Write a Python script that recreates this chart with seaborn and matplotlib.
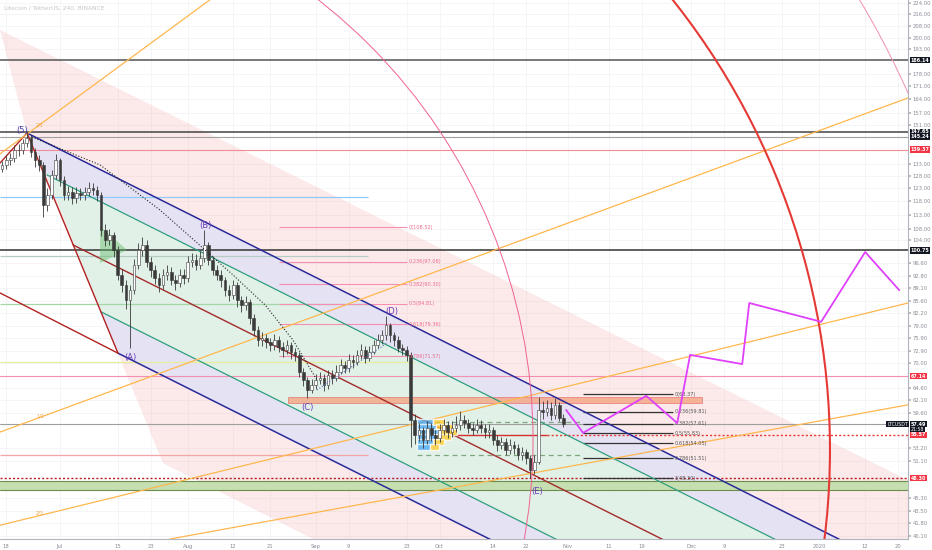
import matplotlib
matplotlib.use('Agg')
import numpy as np
import pandas as pd
import seaborn as sns
import matplotlib.pyplot as plt
import matplotlib.dates as mdates
from matplotlib.patches import Polygon, Circle, Rectangle
from matplotlib.transforms import IdentityTransform, blended_transform_factory
from matplotlib.ticker import FixedLocator, FuncFormatter, NullLocator

sns.set_theme(style='white')
plt.rcParams['font.family'] = ['DejaVu Sans']

# ---- price data (daily bars) ----
candle_start = '2019-06-17'
first_open = 131.0
closes = [132.6, 134.8, 135.7, 139.2, 139.2, 142.4, 144.7, 138.3, 134.8, 132.6,
          116.6, 120.4, 128.4, 134.8, 126.4, 120.4, 121.6, 119.3, 121.2, 120.4,
          121.6, 123.2, 122.4, 120.4, 107.6, 104.2, 105.9, 100.8, 93.0, 90.0,
          85.8, 88.6, 96.0, 100.8, 102.5, 97.0, 94.5, 92.1, 90.0, 93.0,
          93.9, 91.5, 90.6, 93.0, 92.1, 97.0, 97.6, 96.0, 98.2, 102.5,
          97.6, 94.5, 93.0, 91.5, 88.6, 87.2, 90.0, 85.8, 84.4, 85.3,
          81.0, 77.9, 75.4, 75.9, 74.9, 74.2, 75.4, 73.7, 73.0, 74.2,
          72.5, 71.8, 68.1, 66.3, 64.2, 65.2, 66.3, 66.7, 65.2, 67.4,
          66.7, 68.1, 69.6, 68.9, 70.7, 70.2, 71.8, 73.0, 71.2, 72.5,
          74.2, 75.4, 76.6, 79.2, 76.6, 75.4, 73.5, 73.0, 71.8, 58.3,
          55.5, 56.4, 54.6, 56.8, 55.5, 55.0, 56.4, 57.3, 56.0, 56.8,
          57.3, 58.3, 57.7, 56.8, 56.4, 57.3, 56.8, 56.0, 56.4, 54.6,
          53.7, 54.3, 52.9, 53.7, 53.2, 52.0, 52.5, 51.5, 49.6, 50.9,
          60.2, 59.8, 60.6, 59.2, 61.2, 58.7, 57.5]
highs = [134.5, 136.8, 138.0, 141.5, 142.0, 144.5, 147.6, 146.0, 140.0, 137.0,
         134.0, 123.0, 130.5, 137.5, 135.5, 128.0, 124.0, 123.5, 123.5, 123.0,
         123.5, 125.5, 125.0, 124.0, 121.5, 109.5, 108.0, 107.0, 102.0, 95.0,
         91.5, 90.0, 98.0, 103.0, 105.0, 104.0, 98.5, 96.0, 93.5, 95.0,
         96.0, 95.5, 93.0, 95.0, 95.0, 99.0, 100.0, 99.5, 100.5, 107.6,
         103.5, 99.0, 96.0, 94.5, 92.5, 90.0, 91.5, 91.0, 87.0, 87.0,
         86.0, 82.0, 79.0, 77.5, 77.0, 76.0, 77.0, 76.5, 75.0, 75.5,
         75.0, 73.5, 72.5, 69.0, 67.0, 66.5, 67.5, 68.0, 67.5, 68.5,
         68.5, 69.5, 71.0, 70.5, 72.0, 71.8, 73.0, 74.5, 74.0, 74.0,
         75.5, 77.0, 78.0, 81.5, 79.8, 77.5, 76.5, 74.5, 74.0, 72.5,
         59.5, 57.8, 57.0, 58.0, 57.8, 56.5, 57.5, 58.5, 58.0, 58.0,
         59.0, 60.0, 59.2, 58.5, 57.8, 58.5, 58.2, 57.5, 57.5, 57.0,
         55.5, 55.2, 55.0, 54.8, 54.5, 54.0, 53.5, 53.0, 52.0, 52.0,
         62.8, 62.0, 62.2, 61.8, 62.5, 61.8, 59.5]
lows = [129.5, 131.0, 132.8, 134.0, 136.5, 137.5, 140.5, 136.0, 132.0, 130.0,
        112.0, 114.5, 119.0, 127.0, 124.0, 118.5, 118.5, 117.0, 117.5, 118.5,
        118.5, 120.0, 120.5, 118.0, 105.5, 102.0, 102.5, 98.5, 91.5, 88.0,
        83.5, 73.5, 87.5, 95.0, 99.0, 95.5, 92.5, 90.5, 88.0, 89.0,
        91.5, 90.0, 88.5, 89.5, 90.5, 91.0, 95.5, 94.5, 95.0, 97.0,
        96.0, 93.0, 91.5, 89.5, 87.0, 85.5, 86.0, 84.0, 82.5, 83.0,
        79.5, 76.5, 74.0, 74.0, 73.5, 72.8, 73.0, 72.5, 71.5, 72.0,
        71.0, 70.5, 67.0, 65.0, 62.5, 63.5, 64.5, 65.5, 64.0, 64.5,
        65.5, 66.0, 67.5, 67.8, 68.0, 69.0, 69.5, 71.0, 70.0, 70.5,
        72.0, 73.5, 74.5, 75.5, 75.0, 74.0, 72.5, 71.8, 70.5, 53.5,
        54.0, 54.5, 53.2, 54.0, 54.5, 53.8, 54.2, 55.5, 55.0, 55.2,
        56.0, 56.5, 56.8, 55.8, 55.5, 55.8, 55.8, 55.0, 55.0, 53.8,
        52.8, 53.0, 52.0, 52.2, 52.3, 51.2, 51.3, 50.5, 48.3, 49.0,
        50.5, 58.5, 59.0, 58.2, 58.5, 58.0, 57.0]

# ---- drawing anchors (date, price) ----
END = '2020-01-22 12:00'
fork_upper = [('2019-06-23 01:00', 147.1), (END, 35.5)]
fork_upper_mid = [('2019-06-27 21:00', 128.5), (END, 32.0)]
fork_median = [('2019-07-04 05:00', 102.5), (END, 26.7)]
fork_lower_mid = [('2019-07-11 00:00', 82.6), (END, 22.5)]
fork_lower = [('2019-07-15 02:00', 72.3), (END, 20.2)]
wave_path = [('2019-06-16 12:00', 133.5), ('2019-06-23 01:00', 147.1), ('2019-07-15 02:00', 72.3)]
lower_red = [('2019-06-16 12:00', 87.8), ('2019-07-15 02:00', 72.3)]
wedge = [('2019-06-16 12:00', 205.1), (END, 48.0), (END, 15.2),
         ('2019-08-31 08:00', 39.7), ('2019-07-26 00:00', 50.7), ('2019-06-23 01:00', 147.1)]

full_levels = [186.14, 147.65, 145.24, 139.37, 100.75, 67.14, 57.49]
full_level_colors = ['#555555', '#444444', '#a0a0a0', '#f28b96', '#333333', '#f48fb1', '#9e9e9e']
part_levels = [119.6, 98.9, 84.7, 70.3, 52.05]
part_level_ends = ['2019-09-13 16:00', '2019-09-13 16:00', '2019-09-13 16:00', '2019-09-24 20:00', '2019-09-13 16:00']
part_level_colors = ['#90caf9', '#b5ccc4', '#a5d6a7', '#e6ee9c', '#f4a6a6']

fib_left_levels = [108.52, 97.08, 90.30, 84.81, 79.36, 71.57]
fib_left_labels = ['0(108.52)', '0.236(97.08)', '0.382(90.30)', '0.5(84.81)', '0.618(79.36)', '0.786(71.57)']
fib_right_levels = [63.37, 59.81, 57.61, 55.83, 54.05, 51.51, 48.30]
fib_right_labels = ['0(63.37)', '0.236(59.81)', '0.382(57.61)', '0.5(55.83)', '0.618(54.05)', '0.786(51.51)', '1(48.30)']

dotted_curve = [('2019-06-24 06:00', 145.2), ('2019-07-10 18:00', 132.7), ('2019-07-25 07:00', 114.7),
                ('2019-08-03 06:00', 103.2), ('2019-08-12 00:00', 93.0), ('2019-08-19 17:00', 84.5),
                ('2019-08-26 12:00', 75.4), ('2019-09-01 07:00', 66.3)]
cd_dotted = [('2019-09-01 07:00', 64.2), ('2019-09-18 07:00', 74.7)]

projection = [('2019-10-31 16:00', 60.2), ('2019-11-04 19:00', 55.9), ('2019-11-20 02:00', 63.0),
              ('2019-11-27 14:00', 57.7), ('2019-11-30 17:00', 71.9), ('2019-12-13 08:00', 69.8),
              ('2019-12-15 01:00', 85.0), ('2020-01-01 11:00', 80.0), ('2020-01-12 03:00', 100.2),
              ('2020-01-20 09:00', 88.6)]

fan_lines = [[('2019-06-16 12:00', 137.5), ('2019-08-11 06:00', 237.1)],
             [('2019-06-16 12:00', 56.05), (END, 164.7)],
             [('2019-06-16 12:00', 41.5), (END, 85.0)],
             [('2019-07-27 17:00', 39.7), (END, 61.2)]]
fan_labels = ['2/1', '1/1', '2/3']
fan_label_pos = [('2019-06-26 05:00', 150.9), ('2019-06-26 05:00', 59.0), ('2019-06-26 05:00', 43.2)]

arc_centers = [('2019-07-12 10:00', 52.9), ('2019-06-10 05:00', 54.6), ('2019-07-12 10:00', 52.9)]
arc_radii_px = [723, 559, 877]

wave_names = ['(5)', '(A)', '(B)', '(C)', '(D)', '(E)']
wave_pos = [('2019-06-21 20:00', 148.5), ('2019-07-18 00:00', 71.4), ('2019-08-05 04:00', 109.3),
            ('2019-08-29 22:00', 60.6), ('2019-09-19 12:00', 82.6), ('2019-10-24 15:00', 46.2)]

vp_prices = [57.9, 57.0, 56.05, 55.15, 54.27, 53.4]
vp_blue_days = [3.8, 4.6, 5.0, 4.6, 3.8, 3.2]
vp_orange_days = [3.0, 4.0, 4.6, 3.6, 2.6, 2.0]

axis_label_values = [186.14, 147.65, 145.24, 139.37, 100.75, 67.14, 57.49, 55.57, 48.30]
axis_label_colors = ['#131722', '#131722', '#131722', '#f23645', '#131722', '#f23645', '#131722', '#f23645', '#f23645']
y_ticks = [224, 216, 208, 200, 193, 178, 171, 164, 157, 151, 133, 128, 123, 118, 113, 108, 104,
           96.6, 92.8, 89.1, 85.6, 82.2, 79.0, 75.9, 72.9, 70.0, 64.6, 62.1, 59.6, 53.2, 51.1,
           45.3, 43.5, 41.8, 40.1]
x_tick_dates = ['2019-06-18', '2019-07-01', '2019-07-15', '2019-07-23', '2019-08-01', '2019-08-12',
                '2019-08-21', '2019-09-01', '2019-09-09', '2019-09-23', '2019-10-01', '2019-10-14',
                '2019-10-22', '2019-11-01', '2019-11-11', '2019-11-19', '2019-12-01', '2019-12-09',
                '2019-12-23', '2020-01-01', '2020-01-12', '2020-01-20']
x_tick_labels = ['18', 'Jul', '15', '23', 'Aug', '12', '21', 'Sep', '9', '23', 'Oct', '14', '22',
                 'Nov', '11', '19', 'Dec', '9', '23', '2020', '12', '20']


def dn(s):
    return mdates.date2num(pd.Timestamp(s))


def pts(seq):
    return [(dn(d), p) for d, p in seq]


fig = plt.figure(figsize=(9.32, 5.5), dpi=100)
ax = fig.add_axes([0, 11 / 550, 908 / 932, 539 / 550])
ax.set_yscale('log')
ax.set_xlim(dn('2019-06-16 12:00'), dn(END))
ax.set_ylim(39.7, 225.9)

# background wedge
ax.add_patch(Polygon(pts(wedge), closed=True, facecolor=(0.95, 0.55, 0.55, 0.18), edgecolor='none', zorder=1))

# pitchfork fills
fills = [(fork_upper, fork_upper_mid, '#e3e3f5'), (fork_upper_mid, fork_lower_mid, '#def2e8'),
         (fork_lower_mid, fork_lower, '#e3e3f5')]
for a, b, c in fills:
    poly = pts([a[0], a[1], b[1], b[0]])
    ax.add_patch(Polygon(poly, closed=True, facecolor=c, edgecolor='none', alpha=0.9, zorder=2))

# horizontal levels
for p, c in zip(full_levels, full_level_colors):
    ax.axhline(p, color=c, lw=1.1 if c in ('#555555', '#444444', '#333333') else 0.8, zorder=3)
for p, e, c in zip(part_levels, part_level_ends, part_level_colors):
    ax.hlines(p, dn('2019-06-16 12:00'), dn(e), color=c, lw=0.9, zorder=3)
ax.axhspan(46.5, 47.9, facecolor='#c5dfb0', edgecolor='none', zorder=3)
ax.axhline(47.9, color='#6b8e4e', lw=0.8, zorder=3)
ax.axhline(46.5, color='#6b8e4e', lw=0.8, zorder=3)
ax.axhline(48.30, color='#b71c1c', lw=1.0, ls=(0, (1.5, 1.5)), zorder=4)
ax.hlines(55.57, dn('2019-10-03 13:00'), dn('2019-10-27 00:00'), color='#d32f2f', lw=1.0, zorder=4)
ax.hlines(55.57, dn('2019-10-27 00:00'), dn(END), color='#e53935', lw=1.0, ls=(0, (1.5, 1.5)), zorder=4)
for p in [57.9, 52.05]:
    ax.hlines(p, dn('2019-09-25 14:00'), dn('2019-11-04 13:00'), color='#7fa77f', lw=0.9, ls=(0, (4, 3)), zorder=4)

# salmon box
x0, x1 = dn('2019-08-25 07:00'), dn('2019-12-03 15:00')
ax.add_patch(Rectangle((x0, 61.56), x1 - x0, 62.76 - 61.56, facecolor='#f4a582', edgecolor='#e57373',
                       lw=0.6, alpha=0.8, zorder=4))

# fib retracements
for p, lab in zip(fib_left_levels, fib_left_labels):
    ax.hlines(p, dn('2019-08-23 02:00'), dn('2019-09-23 04:00'), color='#f48fb1', lw=0.8, zorder=4)
    ax.text(dn('2019-09-23 12:00'), p, lab, fontsize=3.6, color='#ec6b8b', va='center', zorder=7)
for p, lab in zip(fib_right_levels, fib_right_labels):
    ax.hlines(p, dn('2019-11-04 19:00'), dn('2019-11-26 14:00'), color='#333333', lw=0.9, zorder=5)
    ax.text(dn('2019-11-27 00:00'), p, lab, fontsize=3.6, color='#555555', va='center', zorder=7)

# pitchfork lines
for line, c, w in [(fork_upper, '#2a2a9a', 1.1), (fork_upper_mid, '#2e9e7e', 0.9),
                   (fork_median, '#a52a2a', 1.0), (fork_lower_mid, '#2e9e7e', 0.9),
                   (fork_lower, '#2a2a9a', 1.1), (wave_path, '#b22222', 1.0), (lower_red, '#b22222', 1.0)]:
    xy = pts(line)
    ax.plot([q[0] for q in xy], [q[1] for q in xy], color=c, lw=w, zorder=5)

# gann fan
for line in fan_lines:
    xy = pts(line)
    ax.plot([q[0] for q in xy], [q[1] for q in xy], color='#ffb74d', lw=0.9, zorder=5)
for lab, pos in zip(fan_labels, pts(fan_label_pos)):
    ax.text(pos[0], pos[1], lab, fontsize=3.6, color='#f0a040', ha='center', va='center', zorder=7)

# green triangle
ax.add_patch(Polygon(pts([('2019-07-10 18:00', 108.9), ('2019-07-17 07:00', 100.85), ('2019-07-10 18:00', 96.7)]),
                     closed=True, facecolor='#66bb6a', alpha=0.45, edgecolor='none', zorder=5))

# volume profile
vp_left = dn('2019-09-25 14:00')
ax.barh(vp_prices, vp_blue_days, left=vp_left, height=0.95, color='#42a5f5', alpha=0.75, zorder=5)
ax.barh(vp_prices, vp_orange_days, left=[vp_left + b for b in vp_blue_days], height=0.95,
        color='#ffca28', alpha=0.75, zorder=5)

# candles
dates = pd.date_range(candle_start, periods=len(closes), freq='D')
xs = mdates.date2num(dates)
opens = [first_open] + closes[:-1]
ax.vlines(xs, lows, highs, color='#3a3a3a', lw=0.6, zorder=6)
up = [c >= o for o, c in zip(opens, closes)]
bottoms = [min(o, c) for o, c in zip(opens, closes)]
heights = [max(abs(c - o), 0.2) for o, c in zip(opens, closes)]
ax.bar(xs, heights, bottom=bottoms, width=0.65,
       color=['#ffffff' if u else '#3a3a3a' for u in up], edgecolor='#3a3a3a', lw=0.4, zorder=6)

# dotted curves
xy = pts(dotted_curve)
sns.lineplot(x=[q[0] for q in xy], y=[q[1] for q in xy], ax=ax, color='#222222', lw=0.8,
             linestyle=':', sort=False, estimator=None, zorder=7)
xy = pts(cd_dotted)
sns.lineplot(x=[q[0] for q in xy], y=[q[1] for q in xy], ax=ax, color='#5c6bc0', lw=0.8,
             linestyle=':', sort=False, estimator=None, zorder=7)

# projection path
xy = pts(projection)
sns.lineplot(x=[q[0] for q in xy], y=[q[1] for q in xy], ax=ax, color='#e040fb', lw=1.3,
             sort=False, estimator=None, zorder=8)

# arcs (circles in screen space)
for c, r, col, w in zip(pts(arc_centers), arc_radii_px, ['#e53935', '#f06292', '#f48fb1'], [1.5, 0.7, 0.7]):
    cx, cy = ax.transData.transform(c)
    ax.add_patch(Circle((cx, cy), r, transform=IdentityTransform(), fill=False, edgecolor=col, lw=w, zorder=6))

# wave labels
for name, pos in zip(wave_names, pts(wave_pos)):
    ax.text(pos[0], pos[1], name, fontsize=6, color='#4a3aa8' if name == '(5)' else '#6a3db8',
            ha='center', va='center', zorder=9)

# axes styling
ax.yaxis.tick_right()
ax.yaxis.set_major_locator(FixedLocator(y_ticks))
ax.yaxis.set_minor_locator(NullLocator())
ax.yaxis.set_major_formatter(FuncFormatter(lambda v, _: f'{v:.2f}'))
ax.set_xticks([dn(d) for d in x_tick_dates])
ax.set_xticklabels(x_tick_labels)
ax.tick_params(axis='both', labelsize=3.8, colors='#b2b5be', labelcolor='#8a8d96', length=2, pad=1.5)
ax.grid(True, color='#f4f4f6', lw=0.6, zorder=0)
ax.set_axisbelow(True)
for s in ['top', 'left']:
    ax.spines[s].set_visible(False)
for s in ['right', 'bottom']:
    ax.spines[s].set_color('#b2b5be')
    ax.spines[s].set_linewidth(0.8)
ax.set_xlabel('')
ax.set_ylabel('')

# price labels on the right axis
tr = blended_transform_factory(ax.transAxes, ax.transData)
for v, c in zip(axis_label_values, axis_label_colors):
    ax.text(1.003, v, f'{v:.2f}', transform=tr, fontsize=3.5, color='white', fontweight='bold',
            ha='left', va='center', zorder=10, clip_on=False,
            bbox=dict(boxstyle='square,pad=0.15', facecolor=c, edgecolor='none'))
ax.text(0.977, 57.49, 'LTCUSDT', transform=tr, fontsize=3.4, color='white', ha='left', va='center',
        zorder=10, clip_on=False, bbox=dict(boxstyle='square,pad=0.15', facecolor='#131722', edgecolor='none'))
ax.text(1.003, 56.55, '21:58', transform=tr, fontsize=3.3, color='white', ha='left', va='center',
        zorder=11, clip_on=False, bbox=dict(boxstyle='square,pad=0.12', facecolor='#131722', edgecolor='none'))

ax.text(0.004, 0.99, 'Litecoin / TetherUS, 240, BINANCE', transform=ax.transAxes, fontsize=4.2,
        color='#c4c6cc', ha='left', va='top', zorder=10)

fig.savefig('out.png', dpi=100)
